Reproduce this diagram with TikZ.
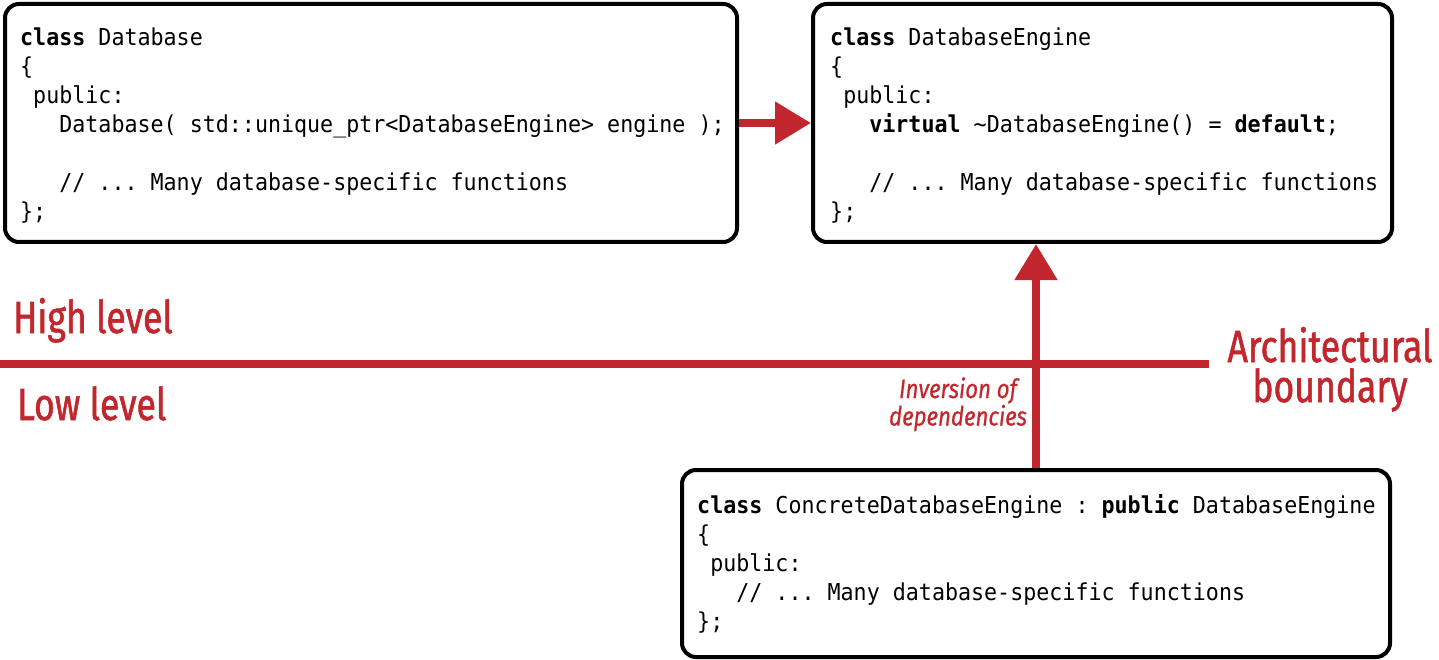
\documentclass[tikz,border=0pt]{standalone}
\usepackage{fontspec}
\usetikzlibrary{arrows.meta}
\newfontfamily\codefont[FakeStretch=0.93]{DejaVu Sans Mono}
\newfontfamily\labfont[FakeStretch=0.79, FakeBold=1.2]{Fira Sans}
\newfontfamily\invfont[FakeStretch=0.84, FakeBold=0.6]{Fira Sans}
\definecolor{accent}{RGB}{193,39,45}
\newcommand\codeblock[1]{\vtop{\codefont\fontsize{23.3}{29}\selectfont\lineskiplimit=-100pt #1}}
\newcommand\kw[1]{\textbf{#1}}
\newcommand\twolines[2]{\vtop{\lineskiplimit=-100pt\halign{\hfil##\hfil\cr #1\cr #2\cr}}}
\tikzset{
  box/.style={draw=black, line width=4pt, rounded corners=14pt, inner sep=0pt, fill=white},
  code/.style={inner sep=0pt, anchor=base west, text=black},
  lab/.style={inner sep=0pt, text=accent, font=\labfont\fontsize{45}{40}\selectfont},
  inv/.style={inner sep=0pt, text=accent, font=\invfont\itshape\fontsize{26.5}{27.5}\selectfont},
  redarrow/.style={draw=accent, line width=8pt, -{Triangle[length=36pt, width=41pt]}},
}
\begin{document}
\begin{tikzpicture}[x=1pt, y=-1pt]
\useasboundingbox (0,0) rectangle (1439,660);
% boxes
\node[box, minimum width=732pt, minimum height=238pt] (db) at (371,123) {};
\node[box, minimum width=579pt, minimum height=238pt] (dbe) at (1102.5,123) {};
\node[box, minimum width=708pt, minimum height=187pt] (cde) at (1036,563.5) {};
% code
\node[code] (dbtext) at (20,46) {\codeblock{%
\hbox{\kw{class} Database}%
\hbox{\{}%
\hbox{\ public:}%
\hbox{\ \ \ Database(\ std::unique\_ptr<DatabaseEngine>\ engine\ );}%
\hbox{}%
\hbox{\ \ \ //\ ...\ Many\ database-specific\ functions}%
\hbox{\};}}};
\node[code] (dbetext) at (830,46) {\codeblock{%
\hbox{\kw{class} DatabaseEngine}%
\hbox{\{}%
\hbox{\ public:}%
\hbox{\ \ \ \kw{virtual}\ \textasciitilde DatabaseEngine()\ =\ \kw{default};}%
\hbox{}%
\hbox{\ \ \ //\ ...\ Many\ database-specific\ functions}%
\hbox{\};}}};
\node[code] (cdetext) at (697,513) {\codeblock{%
\hbox{\kw{class}\ ConcreteDatabaseEngine\ :\ \kw{public}\ DatabaseEngine}%
\hbox{\{}%
\hbox{\ public:}%
\hbox{\ \ \ //\ ...\ Many\ database-specific\ functions}%
\hbox{\};}}};
% boundary
\coordinate (bl) at (0,364);
\coordinate (br) at (1209,364);
\draw[draw=accent, line width=8pt] (bl) -- (br);
% arrows
\draw[redarrow] (db.east) -- (dbe.west);
\draw[redarrow] (cde.north) -- (dbe.south -| cde.north);
% labels
\node[lab, anchor=base west] (high) at (13,333) {High level};
\node[lab, anchor=base west] (low) at (17,420) {Low level};
\node[lab, anchor=base] (arch) at (1330,362) {\twolines{Architectural}{boundary}};
\node[inv, anchor=base] (invlab) at (958,398) {\twolines{Inversion of}{dependencies}};
\end{tikzpicture}
\end{document}
